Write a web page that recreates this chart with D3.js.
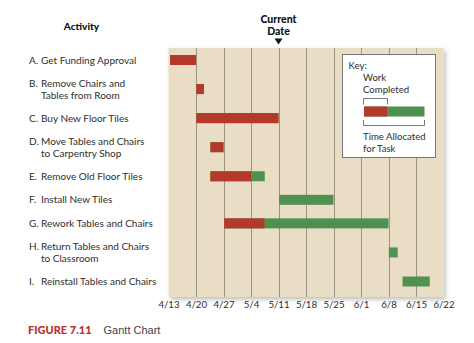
<!DOCTYPE html>
<html>
<head>
<meta charset="utf-8">
<script src="https://cdn.jsdelivr.net/npm/d3@7"></script>
<style>
  html, body { margin: 0; padding: 0; background: #ffffff; }
  svg { display: block; font-family: Lato, "Open Sans", sans-serif; }
</style>
</head>
<body>
<svg id="chart" width="474" height="343"></svg>
<script>
// Task list for the classroom renovation schedule
const letters = ["A.", "B.", "C.", "D.", "E.", "F.", "G.", "H.", "I."];
const activities = [
  ["Get Funding Approval"],
  ["Remove Chairs and", "Tables from Room"],
  ["Buy New Floor Tiles"],
  ["Move Tables and Chairs", "to Carpentry Shop"],
  ["Remove Old Floor Tiles"],
  ["Install New Tiles"],
  ["Rework Tables and Chairs"],
  ["Return Tables and Chairs", "to Classroom"],
  ["Reinstall Tables and Chairs"]
];
// Start of each task, end of work completed so far, end of time allocated
const taskStart = ["04-13T10", "04-20T02", "04-20T02", "04-23T16", "04-23T16", "05-11T04", "04-27T04", "06-08T02", "06-11T14"];
const workDone  = ["04-20", "04-22", "05-11", "04-27", "05-04", null, "05-07T10", null, null];
const allocEnd  = ["04-20", "04-22", "05-11", "04-27", "05-07T12", "05-25", "06-08", "06-10T08", "06-18T12"];
const tickDates = ["04-13", "04-20", "04-27", "05-04", "05-11", "05-18", "05-25", "06-01", "06-08", "06-15", "06-22"];
const currentDate = "05-11";
const keyLabels = { title: "Key:", work: ["Work", "Completed"], time: ["Time Allocated", "for Task"] };

const parse = s => s == null ? null : new Date("2009-" + s + (s.includes("T") ? ":00:00Z" : "T00:00:00Z"));

const svg = d3.select("#chart");
const red = "#b4392b", green = "#4f9150", bg = "#e9ddc6", grid = "#9d9383", ink = "#2e2e2e";

const plot = { left: 168.5, right: 443.5, top: 48, bottom: 297 };

const x = d3.scaleUtc()
  .domain([parse(tickDates[0]), parse(tickDates[tickDates.length - 1])])
  .range([plot.left, plot.right]);

// Row spacing grows with the number of label lines
const slots = [0];
for (let i = 1; i < activities.length; i++) {
  const extra = (activities[i - 1].length - 1) + (activities[i].length - 1);
  slots.push(slots[i - 1] + 1 + extra * 0.234);
}
const y = d3.scaleLinear().domain([0, slots[slots.length - 1]]).range([60, 281.5]);

// Soft shadow behind the plotting panel
const defs = svg.append("defs");
const f = defs.append("filter").attr("id", "shadow").attr("x", "-5%").attr("y", "-5%").attr("width", "115%").attr("height", "115%");
f.append("feDropShadow").attr("dx", 2).attr("dy", 2.5).attr("stdDeviation", 2).attr("flood-color", "#000").attr("flood-opacity", 0.25);

svg.append("rect")
  .attr("x", plot.left).attr("y", plot.top)
  .attr("width", plot.right - plot.left).attr("height", plot.bottom - plot.top)
  .attr("fill", bg).attr("filter", "url(#shadow)");

// Weekly gridlines
svg.append("g").selectAll("line")
  .data(tickDates.slice(1, -1).map(parse))
  .join("line")
  .attr("x1", d => Math.round(x(d)) + 0.5).attr("x2", d => Math.round(x(d)) + 0.5)
  .attr("y1", plot.top).attr("y2", plot.bottom)
  .attr("stroke", grid).attr("stroke-width", 1);

// Axis labels
const axis = d3.axisBottom(x)
  .tickValues(tickDates.map(parse))
  .tickFormat(d3.utcFormat("%-m/%-d"))
  .tickSize(0).tickPadding(4.5);
const ag = svg.append("g").attr("transform", `translate(0,${plot.bottom})`).call(axis);
ag.select(".domain").remove();
ag.selectAll("text").attr("fill", ink).attr("font-size", 9.7).attr("font-family", "Lato, sans-serif");

// Bars: allocated time in green, completed work in red on top
const barH = 10;
const rows = activities.map((a, i) => ({
  i, start: parse(taskStart[i]), done: parse(workDone[i]), end: parse(allocEnd[i])
}));
svg.append("g").selectAll("rect.alloc")
  .data(rows)
  .join("rect")
  .attr("x", d => x(d.start)).attr("y", d => y(slots[d.i]) - barH / 2)
  .attr("width", d => x(d.end) - x(d.start)).attr("height", barH)
  .attr("fill", green);
svg.append("g").selectAll("rect.done")
  .data(rows.filter(d => d.done))
  .join("rect")
  .attr("x", d => x(d.start)).attr("y", d => y(slots[d.i]) - barH / 2)
  .attr("width", d => x(d.done) - x(d.start)).attr("height", barH)
  .attr("fill", red);

// Activity labels
svg.append("text").attr("x", 81.5).attr("y", 29.5).attr("text-anchor", "middle")
  .attr("font-weight", 900).attr("font-size", 10).attr("fill", "#111").text("Activity");
const lab = svg.append("g").attr("font-size", 10).attr("fill", ink);
activities.forEach((lines, i) => {
  const cy = y(slots[i]);
  const top = cy - (lines.length - 1) * 6;
  lab.append("text").attr("x", 29).attr("y", top + 3.5).text(letters[i]);
  lines.forEach((t, k) => {
    lab.append("text").attr("x", 41).attr("y", top + k * 12.5 + 3.5).text(t);
  });
});

// Current date marker
const cx = x(parse(currentDate));
svg.append("text").attr("x", cx).attr("y", 22.5).attr("text-anchor", "middle")
  .attr("font-weight", 900).attr("font-size", 10.5).attr("fill", "#111").text("Current");
svg.append("text").attr("x", cx).attr("y", 34.5).attr("text-anchor", "middle")
  .attr("font-weight", 900).attr("font-size", 10.5).attr("fill", "#111").text("Date");
svg.append("path")
  .attr("d", `M${cx - 4},38.5 L${cx + 4},38.5 L${cx},44.5 Z`)
  .attr("fill", "#111");

// Key
const k = svg.append("g");
k.append("rect").attr("x", 342.5).attr("y", 54.5).attr("width", 93).attr("height", 103)
  .attr("fill", "#fff").attr("stroke", "#777").attr("stroke-width", 1);
const kt = k.append("g").attr("font-size", 9.6).attr("fill", ink);
kt.append("text").attr("x", 348.5).attr("y", 68.5).text(keyLabels.title);
kt.append("text").attr("x", 363).attr("y", 81).text(keyLabels.work[0]);
kt.append("text").attr("x", 363).attr("y", 92.5).text(keyLabels.work[1]);
kt.append("text").attr("x", 363).attr("y", 140).text(keyLabels.time[0]);
kt.append("text").attr("x", 363).attr("y", 151.5).text(keyLabels.time[1]);
k.append("path").attr("d", "M363.5,104.5 V98.5 H387.5 V104.5")
  .attr("fill", "none").attr("stroke", "#555").attr("stroke-width", 0.8);
k.append("rect").attr("x", 364).attr("y", 106.5).attr("width", 60.5).attr("height", 10).attr("fill", green);
k.append("rect").attr("x", 364).attr("y", 106.5).attr("width", 23).attr("height", 10).attr("fill", red);
k.append("path").attr("d", "M363.5,120 V125.5 H424.5 V120")
  .attr("fill", "none").attr("stroke", "#555").attr("stroke-width", 0.8);

// Caption
const cap = svg.append("text").attr("x", 28).attr("y", 334).attr("font-size", 11);
cap.append("tspan").attr("font-weight", 900).attr("fill", "#b8302b").text("FIGURE 7.11");
cap.append("tspan").attr("dx", 12).attr("fill", "#444").attr("font-size", 11).attr("font-family", "Liberation Sans, sans-serif").text("Gantt Chart");
</script>
</body>
</html>
